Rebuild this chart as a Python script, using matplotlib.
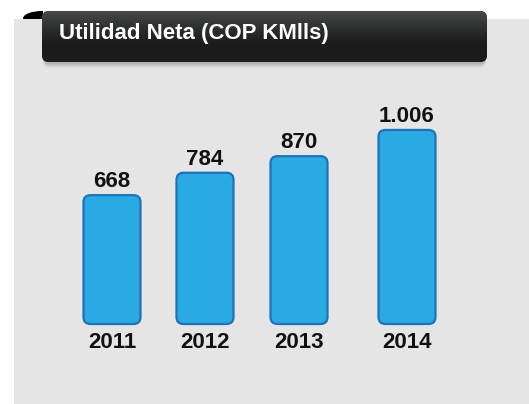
import numpy as np
import matplotlib

matplotlib.use("Agg")
import matplotlib.pyplot as plt
from matplotlib.patches import FancyBboxPatch, Rectangle, Ellipse

# data
years = ["2011", "2012", "2013", "2014"]
values = [668, 784, 870, 1006]
value_labels = ["668", "784", "870", "1.006"]
title = "Utilidad Neta (COP KMlls)"

# layout (pixels)
W, H = 529, 404
bar_x = [112, 205, 299, 407]
bar_w = 57
base_px = 324          # baseline, from top
px_per_unit = 0.1929

fig = plt.figure(figsize=(W / 100, H / 100), dpi=100)
fig.patch.set_facecolor("white")

# decoration axes in pixel coordinates, y downwards
bg = fig.add_axes([0, 0, 1, 1])
bg.set_xlim(0, W)
bg.set_ylim(H, 0)
bg.axis("off")

bg.add_patch(Rectangle((14, 19), W - 14, H - 19, facecolor="#e5e5e5", edgecolor="none", zorder=1))

# soft shadow under the title bar
for i, a in enumerate([0.05, 0.05, 0.05, 0.04, 0.03]):
    bg.add_patch(FancyBboxPatch((43, 13 + i), 443, 51, boxstyle="round,pad=0,rounding_size=7",
                                facecolor="black", edgecolor="none", alpha=a, zorder=2))

# little black curl at the top-left
curl = Ellipse((42, 18.5), 38, 15, facecolor="black", edgecolor="none", zorder=2)
bg.add_patch(curl)
curl.set_clip_path(Rectangle((22, 10), 21, 8.5, transform=bg.transData))

# title bar with vertical gradient
box = FancyBboxPatch((42, 11), 445, 51, boxstyle="round,pad=0,rounding_size=7",
                     facecolor="#252525", edgecolor="none", zorder=3)
bg.add_patch(box)
grad = np.linspace(0, 1, 256).reshape(-1, 1)
top = np.array([0x4a, 0x4c, 0x4c]) / 255
bot = np.array([0x1c, 0x1c, 0x1c]) / 255
t = np.clip(grad * 1.6, 0, 1) ** 0.8
img = top * (1 - t[..., None]) + bot * t[..., None]
im = bg.imshow(img, extent=(42, 487, 62, 11), aspect="auto", interpolation="bilinear", zorder=4)
im.set_clip_path(box)

bg.text(59, 34, title, color="white", fontsize=16, fontweight="bold",
        family=["Liberation Sans", "DejaVu Sans"], ha="left", va="center", zorder=5)

# bar axes, x in pixels, y in data units
ax = fig.add_axes([0, 0, 1, 1])
ax.patch.set_alpha(0)
ax.axis("off")
ax.set_xlim(0, W)
ax.set_ylim(-(H - base_px) / px_per_unit, base_px / px_per_unit)

aspect = 1 / px_per_unit
for x, v, lab, yr in zip(bar_x, values, value_labels, years):
    ax.add_patch(FancyBboxPatch((x - bar_w / 2, 0), bar_w, v,
                                boxstyle="round,pad=0,rounding_size=7", mutation_aspect=aspect,
                                facecolor="#29aae2", edgecolor="#1f72b8", linewidth=1.6))
    ax.annotate(lab, (x, v), xytext=(0, 8), textcoords="offset pixels", ha="center", va="baseline",
                fontsize=16, fontweight="bold", family="Liberation Sans", color="#111111")
    ax.annotate(yr, (x, 0), xytext=(0, -24), textcoords="offset pixels", ha="center", va="baseline",
                fontsize=16, fontweight="bold", family="Liberation Sans", color="#111111")

fig.savefig("out.png", dpi=100)
